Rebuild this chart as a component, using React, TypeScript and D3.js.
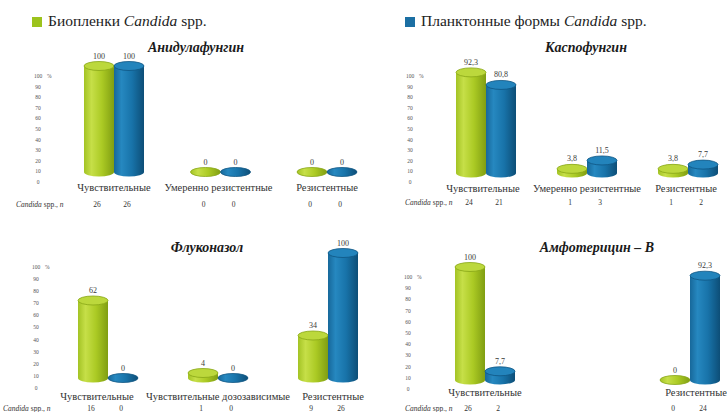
import React from "react";
import * as d3 from "d3";

const W = 727;
const H = 412;

// Series
const seriesKeys = ["biofilm", "plankton"];
const legendLabels = ["Биопленки", "Планктонные формы"];

// Anidulafungin
const anidulaCategories = ["Чувствительные", "Умеренно резистентные", "Резистентные"];
const anidulaBiofilm = [100, 0, 0];
const anidulaPlankton = [100, 0, 0];
const anidulaBiofilmN = [26, 0, 0];
const anidulaPlanktonN = [26, 0, 0];

// Caspofungin
const caspoCategories = ["Чувствительные", "Умеренно резистентные", "Резистентные"];
const caspoBiofilm = [92.3, 3.8, 3.8];
const caspoPlankton = [80.8, 11.5, 7.7];
const caspoBiofilmN = [24, 1, 1];
const caspoPlanktonN = [21, 3, 2];

// Fluconazole
const fluCategories = ["Чувствительные", "Чувствительные дозозависимые", "Резистентные"];
const fluBiofilm = [62, 4, 34];
const fluPlankton = [0, 0, 100];
const fluBiofilmN = [16, 1, 9];
const fluPlanktonN = [0, 0, 26];

// Amphotericin B
const amphoCategories = ["Чувствительные", "Резистентные"];
const amphoBiofilm = [100, 0];
const amphoPlankton = [7.7, 92.3];
const amphoBiofilmN = [26, 0];
const amphoPlanktonN = [2, 24];

const tickValues = [0, 10, 20, 30, 40, 50, 60, 70, 80, 90, 100];

type Panel = {
  title: string;
  categories: string[];
  slots: number[];
  values: number[][];
  counts: number[][];
  titleX: number;
  titleY: number;
  base: number;
  top100: number;
  firstCenter: number;
  lastCenter: number;
  tickX: number;
  tickTop: number;
  tickBottom: number;
  catY: number;
  catShift: number[];
  nY: number;
  nLabelX: number;
};

const panels: Panel[] = [
  {
    title: "Анидулафунгин",
    categories: anidulaCategories,
    slots: [0, 1, 2],
    values: [anidulaBiofilm, anidulaPlankton],
    counts: [anidulaBiofilmN, anidulaPlanktonN],
    titleX: 196, titleY: 52,
    base: 172, top100: 66,
    firstCenter: 114, lastCenter: 327,
    tickX: 38, tickTop: 76, tickBottom: 182,
    catY: 191, catShift: [0, -2, 0], nY: 207, nLabelX: 16,
  },
  {
    title: "Каспофунгин",
    categories: caspoCategories,
    slots: [0, 1, 2],
    values: [caspoBiofilm, caspoPlankton],
    counts: [caspoBiofilmN, caspoPlanktonN],
    titleX: 586, titleY: 52,
    base: 173, top100: 64,
    firstCenter: 486, lastCenter: 688,
    tickX: 410, tickTop: 76, tickBottom: 182,
    catY: 192, catShift: [-3, 0, -2], nY: 205, nLabelX: 405,
  },
  {
    title: "Флуконазол",
    categories: fluCategories,
    slots: [0, 1, 2],
    values: [fluBiofilm, fluPlankton],
    counts: [fluBiofilmN, fluPlanktonN],
    titleX: 207, titleY: 252,
    base: 378, top100: 253,
    firstCenter: 108, lastCenter: 328,
    tickX: 36, tickTop: 267, tickBottom: 388,
    catY: 400, catShift: [-11, 0, 5], nY: 411, nLabelX: 3,
  },
  {
    title: "Амфотерицин – В",
    categories: amphoCategories,
    slots: [0, 2],
    values: [amphoBiofilm, amphoPlankton],
    counts: [amphoBiofilmN, amphoPlanktonN],
    titleX: 597, titleY: 252,
    base: 380, top100: 267,
    firstCenter: 485, lastCenter: 690,
    tickX: 408, tickTop: 277, tickBottom: 389,
    catY: 396, catShift: [0, 6], nY: 411, nLabelX: 405,
  },
];

const BAR_W = 30;
const RY = 4.5;
const FONT = "Liberation Serif, DejaVu Serif, serif";

const topFill = ["#bcd83c", "#2384bc"];
const rimStroke = ["#88a617", "#0f5683"];
const legendFill = ["#9cc31d", "#1b6fa3"];

const fmt = (v: number) => String(v).replace(".", ",");

function Cylinder({ x, top, base, k }: { x: number; top: number; base: number; k: number }) {
  const cx = x + BAR_W / 2;
  const grad = `url(#body-${seriesKeys[k]})`;
  return (
    <g>
      {base - top > 0 && (
        <>
          <ellipse cx={cx} cy={base} rx={BAR_W / 2} ry={RY} fill={grad} />
          <rect x={x} y={top} width={BAR_W} height={base - top} fill={grad} />
        </>
      )}
      <ellipse
        cx={cx}
        cy={top}
        rx={BAR_W / 2}
        ry={RY}
        fill={base - top > 0 ? topFill[k] : grad}
        stroke={rimStroke[k]}
        strokeWidth={0.8}
      />
    </g>
  );
}

function PanelChart({ p }: { p: Panel }) {
  const y = d3.scaleLinear().domain([0, 100]).range([p.base, p.top100]);
  const yTicks = d3.scaleLinear().domain([0, 100]).range([p.tickBottom, p.tickTop]);
  const slot = d3.scalePoint<number>().domain([0, 1, 2]).range([p.firstCenter, p.lastCenter]);
  const inner = d3.scaleBand<number>().domain([0, 1]).range([-BAR_W, BAR_W]).padding(0);

  return (
    <g>
      <text
        x={p.titleX}
        y={p.titleY}
        textAnchor="middle"
        fontFamily={FONT}
        fontWeight="bold"
        fontStyle="italic"
        fontSize={14}
        fill="#1a1a1a"
      >
        {p.title}
      </text>

      {tickValues.map((t) => (
        <text
          key={t}
          x={p.tickX}
          y={yTicks(t)}
          dy="0.35em"
          textAnchor="middle"
          fontFamily={FONT}
          fontSize={5.5}
          fill="#555"
        >
          {t}
        </text>
      ))}
      <text x={p.tickX + 9} y={yTicks(100)} dy="0.35em" fontFamily={FONT} fontSize={5.5} fill="#555">
        %
      </text>

      {p.categories.map((cat, i) => {
        const c = slot(p.slots[i]) as number;
        return (
          <g key={cat}>
            {[0, 1].map((k) => {
              const v = p.values[k][i];
              const x = c + (inner(k) as number);
              return (
                <g key={k}>
                  <Cylinder x={x} top={y(v)} base={y(0)} k={k} />
                  <text
                    x={x + BAR_W / 2}
                    y={y(v) - RY - 3}
                    textAnchor="middle"
                    fontFamily={FONT}
                    fontSize={8}
                    fill="#3a3a3a"
                  >
                    {fmt(v)}
                  </text>
                  <text
                    x={x + BAR_W / 2 - 2}
                    y={p.nY}
                    textAnchor="middle"
                    fontFamily={FONT}
                    fontSize={7.5}
                    fill="#333"
                  >
                    {p.counts[k][i]}
                  </text>
                </g>
              );
            })}
            <text
              x={c + p.catShift[i]}
              y={p.catY}
              textAnchor="middle"
              fontFamily={FONT}
              fontSize={10.5}
              fill="#333"
            >
              {cat}
            </text>
          </g>
        );
      })}

      <text x={p.nLabelX} y={p.nY} fontFamily={FONT} fontSize={7.5} fill="#333">
        <tspan fontStyle="italic">Candida</tspan>
        <tspan> spp., </tspan>
        <tspan fontStyle="italic">n</tspan>
      </text>
    </g>
  );
}

export default function App() {
  return (
    <svg
      width={W}
      height={H}
      viewBox={`0 0 ${W} ${H}`}
      style={{ position: "absolute", left: 0, top: 0, background: "#fff" }}
    >
      <defs>
        <linearGradient id="body-biofilm" x1="0" x2="1" y1="0" y2="0">
          <stop offset="0%" stopColor="#a3c324" />
          <stop offset="25%" stopColor="#c6df48" />
          <stop offset="60%" stopColor="#abca24" />
          <stop offset="100%" stopColor="#809e12" />
        </linearGradient>
        <linearGradient id="body-plankton" x1="0" x2="1" y1="0" y2="0">
          <stop offset="0%" stopColor="#17689a" />
          <stop offset="25%" stopColor="#2688c0" />
          <stop offset="60%" stopColor="#1873a9" />
          <stop offset="100%" stopColor="#0d4e77" />
        </linearGradient>
      </defs>

      {/* legend */}
      <rect x={32} y={17} width={10} height={10} fill={legendFill[0]} />
      <text x={48} y={26} fontFamily={FONT} fontSize={15.5} fill="#222">
        {legendLabels[0]} <tspan fontStyle="italic">Candida</tspan> spp.
      </text>
      <rect x={405} y={17} width={10} height={10} fill={legendFill[1]} />
      <text x={421} y={26} fontFamily={FONT} fontSize={15.5} fill="#222">
        {legendLabels[1]} <tspan fontStyle="italic">Candida</tspan> spp.
      </text>

      {panels.map((p) => (
        <PanelChart key={p.title} p={p} />
      ))}
    </svg>
  );
}
